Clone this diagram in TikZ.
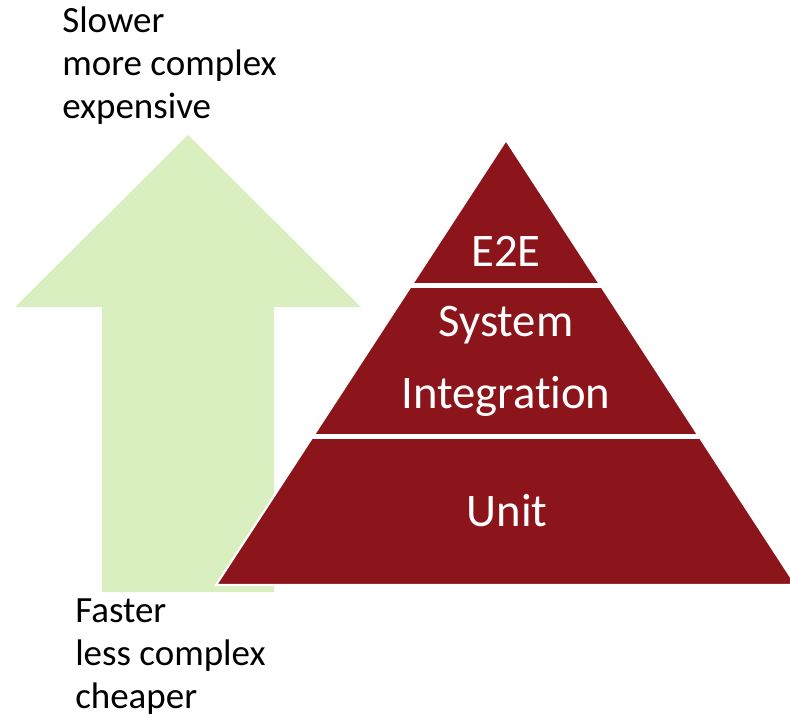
\documentclass[tikz,border=0pt]{standalone}
\usepackage{fontspec}
\setmainfont{Carlito}[Ligatures=NoCommon]
\usetikzlibrary{calc}

\definecolor{pyrred}{HTML}{8C141B}
\definecolor{arrowgreen}{HTML}{D9EFC0}

\tikzset{
  sidetext/.style={align=left, inner sep=0pt, text=black,
    font=\fontsize{26.3}{30.6}\selectfont},
  layertext/.style={inner sep=0pt, text=white, anchor=base,
    font=\fontsize{33.2}{38}\selectfont},
  divider/.style={draw=white, line width=3.6pt},
}

\begin{document}
\begin{tikzpicture}[x=0.25mm, y=0.25mm]
  \useasboundingbox (0,0) rectangle (790,718);
  \clip (0,0) rectangle (790,718);

  % big up arrow
  \fill[arrowgreen] (188,583) -- (361,411) -- (274,411) -- (274,126)
    -- (102,126) -- (102,411) -- (15,411) -- cycle;

  % pyramid
  \coordinate (apex) at (506,578);
  \coordinate (bl) at (216,133);
  \coordinate (br) at (796,133);
  \filldraw[fill=pyrred, draw=white, line width=1.5pt] (apex) -- (bl) -- (br) -- cycle;
  \draw[divider] ($(apex)!0.326!(bl)+(-6,0)$) -- ($(apex)!0.326!(br)+(6,0)$);
  \draw[divider] ($(apex)!0.667!(bl)+(-6,0)$) -- ($(apex)!0.667!(br)+(6,0)$);

  \node[layertext] (e2e) at (506,451) {E2E};
  \node[layertext] (system) at (506,381) {System};
  \node[layertext] (integ) at (506,309) {Integration};
  \node[layertext] (unit) at (507,192) {Unit};

  % labels at both ends of the arrow
  \node[sidetext, anchor=north west] (top) at (62,711)
    {Slower\\more complex\\expensive};
  \node[sidetext, anchor=north west] (bottom) at (75,120)
    {Faster\\less complex\\cheaper};
\end{tikzpicture}
\end{document}
